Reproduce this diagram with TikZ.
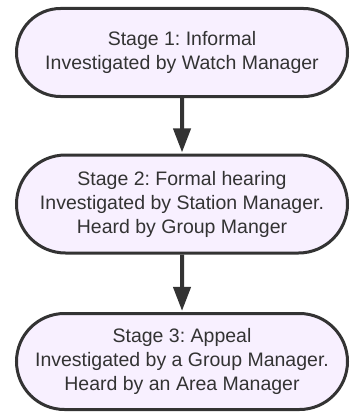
\documentclass[tikz,border=0pt]{standalone}
\usepackage{fontspec}
\setmainfont{Liberation Sans}
\frenchspacing
\usetikzlibrary{shapes.misc,arrows.meta}
\definecolor{boxfill}{HTML}{F8F0FF}
\definecolor{inkgray}{HTML}{333333}
\tikzset{
  stagebox/.style={rounded rectangle, draw=inkgray, fill=boxfill, line width=3pt,
    minimum width=331pt, inner sep=0pt, align=center, text=inkgray,
    font=\fontsize{19.5}{24}\selectfont},
  flowarrow/.style={draw=inkgray, line width=4pt,
    -{Triangle[length=24pt,width=17pt]}, shorten >=1pt}
}
\begin{document}
\begin{tikzpicture}[x=1pt,y=-1pt]
  \useasboundingbox (0,0) rectangle (350,412);

  \node[stagebox, minimum height=88pt] (s1) at (182,52.5)
    {Stage 1: Informal\\Investigated by Watch Manager};
  \node[stagebox, minimum height=98pt] (s2) at (182,204)
    {Stage 2: Formal hearing\\Investigated by Station Manager.\\Heard by Group Manger};
  \node[stagebox, minimum height=96pt] (s3) at (182,361.5)
    {Stage 3: Appeal\\Investigated by a Group Manager.\\Heard by an Area Manager};

  \draw[flowarrow] (s1) -- (s2);
  \draw[flowarrow] (s2) -- (s3);
\end{tikzpicture}
\end{document}
